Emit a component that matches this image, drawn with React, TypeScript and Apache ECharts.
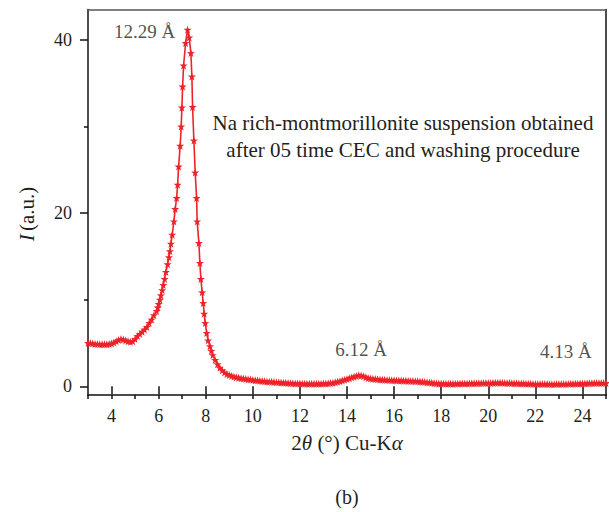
import React, { useEffect, useRef } from "react";
import * as echarts from "echarts";

// ---- data ----
// background before the main peak: 2θ = 3.0 … 5.8, step 0.1
const bgLeftStart = 3.0;
const bgLeftStep = 0.1;
const bgLeft = [5.0, 5.0, 4.95, 4.9, 4.9, 4.85, 4.85, 4.85, 4.85, 4.9, 4.95, 5.05, 5.2, 5.35, 5.45, 5.4, 5.3, 5.2, 5.15, 5.2, 5.45, 5.8, 6.05, 6.3, 6.55, 6.85, 7.3, 7.7, 8.2];

// main (001) reflection, densely sampled
const peakTheta = [5.915, 5.96, 6.0, 6.055, 6.097, 6.152, 6.195, 6.254, 6.309, 6.381, 6.437, 6.479, 6.521, 6.577, 6.649, 6.704, 6.763, 6.806, 6.848, 6.916, 6.958, 6.988, 7.018, 7.06, 7.145, 7.23, 7.298, 7.37, 7.412, 7.442, 7.497, 7.552, 7.612, 7.637, 7.709, 7.752, 7.794, 7.849, 7.892, 7.934, 7.98, 8.04, 8.1, 8.18, 8.24];
const peakI = [8.7, 9.1, 9.5, 10.0, 10.5, 11.1, 11.7, 12.4, 13.2, 14.1, 14.9, 15.6, 16.47, 17.5, 19.04, 20.47, 21.74, 23.27, 25.38, 27.77, 30.0, 32.19, 34.61, 37.04, 39.62, 41.16, 40.27, 38.47, 35.77, 32.24, 28.38, 24.69, 21.74, 19.04, 16.55, 14.24, 12.39, 10.85, 9.62, 8.39, 7.3, 6.16, 5.3, 4.62, 4.1];

// tail: 2θ = 8.3 … 25.0, step 0.1
const tailStart = 8.3;
const tailStep = 0.1;
const tail = [
  3.6, 3.05, 2.55, 2.15, 1.85, 1.6, 1.42, 1.3, 1.2, 1.12, 1.05, 0.99, 0.94, 0.9, 0.86, 0.82, 0.78,
  0.74, 0.7, 0.67, 0.64, 0.61, 0.58, 0.56, 0.54, 0.52, 0.5,
  0.48, 0.46, 0.44, 0.42, 0.4, 0.39, 0.37, 0.36, 0.34, 0.33,
  0.32, 0.31, 0.3, 0.3, 0.29, 0.29, 0.29, 0.3, 0.3, 0.31,
  0.32, 0.33, 0.35, 0.38, 0.42, 0.47, 0.53, 0.6, 0.68, 0.76,
  0.85, 0.94, 1.03, 1.12, 1.2, 1.27, 1.24, 1.15, 1.05, 0.97,
  0.91, 0.87, 0.84, 0.81, 0.79, 0.77, 0.75, 0.74, 0.72, 0.71,
  0.69, 0.68, 0.67, 0.66, 0.65, 0.64, 0.63, 0.62, 0.61, 0.6,
  0.58, 0.56, 0.53, 0.5, 0.46, 0.43, 0.4, 0.37, 0.35, 0.33,
  0.32, 0.31, 0.31, 0.3, 0.3, 0.3, 0.31, 0.31, 0.32, 0.32,
  0.33, 0.33, 0.34, 0.35, 0.35, 0.36, 0.37, 0.37, 0.38, 0.38,
  0.39, 0.39, 0.4, 0.4, 0.4, 0.4, 0.4, 0.39, 0.39, 0.38,
  0.37, 0.36, 0.35, 0.34, 0.33, 0.32, 0.31, 0.3, 0.29, 0.28,
  0.28, 0.27, 0.27, 0.26, 0.26, 0.26, 0.25, 0.25, 0.25, 0.26,
  0.26, 0.27, 0.27, 0.28, 0.28, 0.29, 0.3, 0.3, 0.31, 0.32,
  0.33, 0.34, 0.35, 0.36, 0.37, 0.38, 0.38, 0.39, 0.39, 0.38,
  0.38,
];

const xMajorTicks = [4, 6, 8, 10, 12, 14, 16, 18, 20, 22, 24];
const yMajorTicks = [0, 20, 40];
const yMinorTicks = [10, 30];

const peakLabels = [
  { text: "12.29 Å", theta: 5.4, I: 41.0 },
  { text: "6.12 Å", theta: 14.6, I: 4.2 },
  { text: "4.13 Å", theta: 23.3, I: 4.0 },
];

const FONT = "'Liberation Serif', 'Times New Roman', serif";
const RED = "#ee2229";
const INK = "#231f20";
const STAR = "path://M0,-10 L2.35,-3.24 L9.51,-3.09 L3.8,1.24 L5.88,8.09 L0,4 L-5.88,8.09 L-3.8,1.24 L-9.51,-3.09 L-2.35,-3.24 Z";

function buildData(): [number, number][] {
  const out: [number, number][] = [];
  bgLeft.forEach((v, i) => out.push([+(bgLeftStart + i * bgLeftStep).toFixed(3), v]));
  peakTheta.forEach((t, i) => out.push([t, peakI[i]]));
  tail.forEach((v, i) => out.push([+(tailStart + i * tailStep).toFixed(3), v]));
  return out;
}

export default function App() {
  const ref = useRef<HTMLDivElement>(null);
  useEffect(() => {
    document.body.style.margin = "0";
    if (!ref.current) return;
    const chart = echarts.init(ref.current, undefined, { renderer: "svg" });
    const data = buildData();
    const frameAxis = (pos: string, color: string) => ({
      type: "value",
      min: pos === "top" ? 3 : -1,
      max: pos === "top" ? 25 : 43.5,
      position: pos,
      axisLine: { show: true, onZero: false, lineStyle: { color, width: 1.5 } },
      axisTick: { show: false },
      axisLabel: { show: false },
      splitLine: { show: false },
    });
    chart.setOption({
      animation: false,
      backgroundColor: "#ffffff",
      grid: { left: 88, right: 1.5, top: 9.5, bottom: 117 },
      xAxis: [
        {
          type: "value",
          min: 3,
          max: 25,
          interval: 1,
          axisLine: { show: true, onZero: false, lineStyle: { color: "#111", width: 1.5 } },
          axisTick: { show: true, length: 4, lineStyle: { color: "#111", width: 1.5 } },
          axisLabel: {
            fontFamily: FONT,
            fontSize: 18,
            color: INK,
            margin: 12,
            formatter: (v: number) => (Math.round(v) % 2 === 0 ? String(v) : ""),
          },
          splitLine: { show: false },
        },
        {
          type: "value",
          min: 3,
          max: 25,
          position: "bottom",
          axisLine: { show: false },
          axisTick: { show: true, length: 8, customValues: xMajorTicks, lineStyle: { color: "#111", width: 1.5 } },
          axisLabel: { show: false },
          splitLine: { show: false },
        },
        frameAxis("top", "#555"),
      ],
      yAxis: [
        {
          type: "value",
          min: -1,
          max: 43.5,
          axisLine: { show: true, onZero: false, lineStyle: { color: "#111", width: 1.5 } },
          axisTick: { show: true, length: 8, customValues: yMajorTicks, lineStyle: { color: "#111", width: 1.5 } },
          axisLabel: { fontFamily: FONT, fontSize: 18, color: INK, margin: 16, customValues: yMajorTicks },
          splitLine: { show: false },
        },
        {
          type: "value",
          min: -1,
          max: 43.5,
          position: "left",
          offset: 0,
          axisLine: { show: false },
          axisTick: { show: true, length: 4, customValues: yMinorTicks, lineStyle: { color: "#111", width: 1.5 } },
          axisLabel: { show: false },
          splitLine: { show: false },
        },
        frameAxis("right", "#111"),
      ],
      series: [
        {
          type: "line",
          xAxisIndex: 0,
          yAxisIndex: 0,
          data,
          symbol: STAR,
          symbolSize: 8,
          showAllSymbol: true,
          lineStyle: { color: RED, width: 1.6 },
          itemStyle: { color: RED },
          emphasis: { disabled: true },
        },
        {
          type: "scatter",
          xAxisIndex: 0,
          yAxisIndex: 0,
          data: peakLabels.map((p) => [p.theta, p.I]),
          symbolSize: 0,
          silent: true,
          label: {
            show: true,
            position: "inside",
            formatter: (p: any) => peakLabels[p.dataIndex].text,
            fontFamily: FONT,
            fontSize: 19,
            color: INK,
          },
        },
      ],
      graphic: [
        {
          type: "text",
          x: 403,
          y: 109,
          style: {
            text: "Na rich-montmorillonite suspension obtained\nafter 05 time CEC and washing procedure",
            fontFamily: FONT,
            fontSize: 21,
            fill: INK,
            align: "center",
            verticalAlign: "top",
            lineHeight: 27,
          },
        },
        {
          type: "text",
          x: 347,
          y: 443,
          style: {
            text: "{a|2}{i|θ}{a| (°) Cu-K}{i|α}",
            align: "center",
            verticalAlign: "middle",
            rich: {
              a: { fontFamily: FONT, fontSize: 21, fill: INK },
              i: { fontFamily: FONT, fontSize: 21, fontStyle: "italic", fill: INK },
            },
          },
        },
        {
          type: "text",
          x: 27,
          y: 214,
          rotation: Math.PI / 2,
          style: {
            text: "{i|I} {a|(a.u.)}",
            align: "center",
            verticalAlign: "middle",
            rich: {
              a: { fontFamily: FONT, fontSize: 21, fill: INK },
              i: { fontFamily: FONT, fontSize: 21, fontStyle: "italic", fill: INK },
            },
          },
        },
        {
          type: "text",
          x: 347,
          y: 497,
          style: {
            text: "(b)",
            align: "center",
            verticalAlign: "middle",
            fontFamily: FONT,
            fontSize: 20,
            fill: INK,
          },
        },
      ],
    });
    return () => chart.dispose();
  }, []);
  return <div ref={ref} style={{ position: "absolute", left: 0, top: 0, width: 609, height: 512 }} />;
}
